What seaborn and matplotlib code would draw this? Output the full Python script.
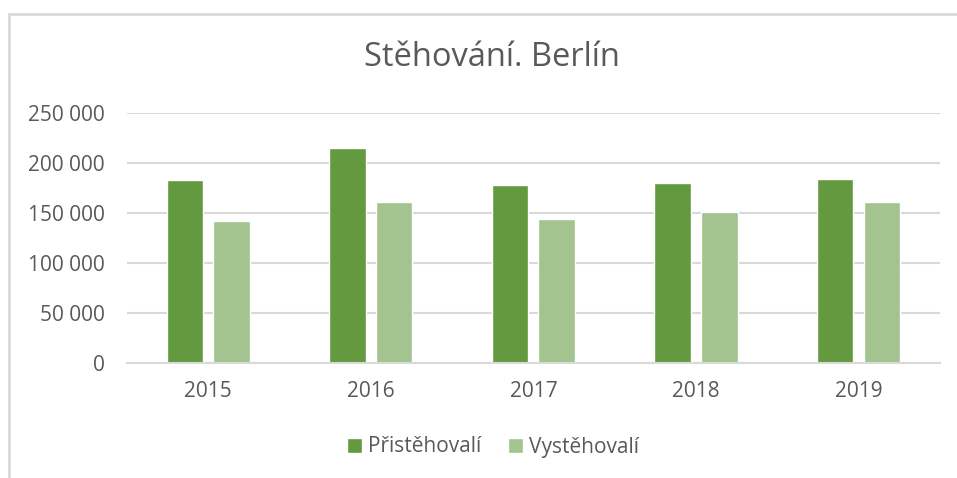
import matplotlib
matplotlib.use("Agg")
import matplotlib.pyplot as plt
from matplotlib.patches import Rectangle
from matplotlib.ticker import FuncFormatter
import pandas as pd
import seaborn as sns

YEARS = ["2015", "2016", "2017", "2018", "2019"]
IMMIGRANTS = [182600, 215300, 177600, 179900, 184300]
EMIGRANTS = [141500, 161200, 144200, 150500, 161200]
SERIES = ["Přistěhovalí", "Vystěhovalí"]
YTICKS = [0, 50000, 100000, 150000, 200000, 250000]

TEXT = "#595959"
GRID = "#D9D9D9"
PALETTE = {"Přistěhovalí": "#63993F", "Vystěhovalí": "#A3C48F"}

df = pd.DataFrame({
    "year": YEARS * 2,
    "value": IMMIGRANTS + EMIGRANTS,
    "series": [SERIES[0]] * len(YEARS) + [SERIES[1]] * len(YEARS),
})

sns.set_theme(style="white")
plt.rcParams["font.family"] = ["Open Sans", "DejaVu Sans"]

fig = plt.figure(figsize=(9.57, 4.78), dpi=100)
ax = fig.add_axes([0.1327, 0.2406, 0.8493, 0.523])

sns.barplot(data=df, x="year", y="value", hue="series", order=YEARS,
            hue_order=SERIES, palette=PALETTE, width=0.573, gap=0.215,
            saturation=1, ax=ax, legend=True)

ax.set_ylim(0, 250000)
ax.set_xlim(-0.5, len(YEARS) - 0.5)
ax.set_yticks(YTICKS)
ax.yaxis.set_major_formatter(FuncFormatter(lambda v, _: f"{int(v):,}".replace(",", " ")))
ax.grid(axis="y", color=GRID, linewidth=1.5)
ax.set_axisbelow(True)
ax.set_xlabel("")
ax.set_ylabel("")
for side in ["top", "right", "left"]:
    ax.spines[side].set_visible(False)
ax.spines["bottom"].set_color(GRID)
ax.spines["bottom"].set_linewidth(1.5)
ax.tick_params(axis="both", length=0, labelsize=15, colors=TEXT)
ax.tick_params(axis="x", pad=13)
ax.tick_params(axis="y", pad=16)

handles, labels = ax.get_legend_handles_labels()
ax.legend_.remove()
fig.legend(handles, labels, loc="center", bbox_to_anchor=(493 / 957, 1 - 447 / 478),
           ncol=2, frameon=False, fontsize=15, labelcolor=TEXT,
           handlelength=0.7, handleheight=0.7, handletextpad=0.3, columnspacing=1.3)

fig.text(491.5 / 957, 1 - 58 / 478, "Stěhování. Berlín", ha="center", va="center",
         fontsize=23.5, color=TEXT)

# chart frame, cut off on the right and bottom as in the source
fig.patches.append(Rectangle((8.5 / 957, -0.1), 1.2, 1.1 - 14 / 478, transform=fig.transFigure,
                             fill=False, edgecolor=GRID, linewidth=2))

fig.savefig("out.png", dpi=100)
